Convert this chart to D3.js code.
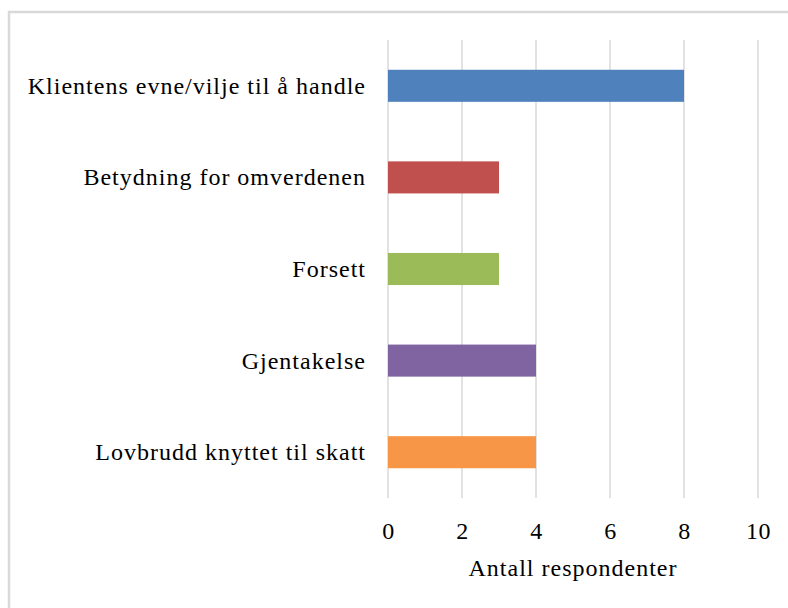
<!DOCTYPE html>
<html><head><meta charset="utf-8">
<script src="https://cdn.jsdelivr.net/npm/d3@7"></script>
<style>
html,body{margin:0;padding:0;background:#fff;}
svg{display:block;}
text{font-family:"Liberation Serif","Times New Roman",serif;fill:#000;}
</style></head>
<body>
<svg id="chart" width="788" height="608"></svg>
<script>
const categories = ["Klientens evne/vilje til å handle","Betydning for omverdenen","Forsett","Gjentakelse","Lovbrudd knyttet til skatt"];
const values = [8,3,3,4,4];
const colors = ["#4F81BD","#C0504D","#9BBB59","#8064A2","#F79646"];
const xTicks = [0,2,4,6,8,10];
const xTitle = "Antall respondenter";

const svg = d3.select("#chart");
const m = {left:388, right:758, top:40, bottom:498};
const FONT = '"Liberation Serif","Times New Roman",serif';

// chart border (top and left visible)
svg.append("rect").attr("x",9).attr("y",12).attr("width",800).attr("height",620)
  .attr("fill","none").attr("stroke","#d9d9d9").attr("stroke-width",2.5);

const x = d3.scaleLinear().domain([0,10]).range([m.left,m.right]);
const y = d3.scaleBand().domain(categories).range([m.top,m.bottom]).paddingInner(0.65).paddingOuter(0.325);

// gridlines
svg.append("g").selectAll("line").data(xTicks).join("line")
  .attr("x1",d=>x(d)).attr("x2",d=>x(d)).attr("y1",m.top).attr("y2",m.bottom)
  .attr("stroke","#d9d9d9").attr("stroke-width",1.5);

// bars
svg.append("g").selectAll("rect").data(categories).join("rect")
  .attr("x",x(0)).attr("y",d=>y(d)).attr("height",y.bandwidth())
  .attr("width",(d,i)=>x(values[i])-x(0)).attr("fill",(d,i)=>colors[i]);

// x axis
const xAxis = d3.axisBottom(x).tickValues(xTicks).tickSize(0).tickPadding(0);
const gx = svg.append("g").attr("transform",`translate(0,${m.bottom})`).call(xAxis);
gx.select(".domain").remove();
gx.attr("font-family",FONT).attr("font-size",24);
gx.selectAll("text").attr("dy",null).attr("y",41).attr("fill","#000").style("letter-spacing","0.5px");

// y axis
const yAxis = d3.axisLeft(y).tickSize(0).tickPadding(22);
const gy = svg.append("g").attr("transform",`translate(${m.left},0)`).call(yAxis);
gy.select(".domain").remove();
gy.attr("font-family",FONT).attr("font-size",24);
gy.selectAll("text").attr("dy","0.33em").attr("fill","#000").style("letter-spacing","1px");

svg.append("text").attr("x",(m.left+m.right)/2).attr("y",576).attr("text-anchor","middle")
  .attr("font-family",FONT).attr("font-size",24).style("letter-spacing","1px").text(xTitle);
</script>
</body></html>
